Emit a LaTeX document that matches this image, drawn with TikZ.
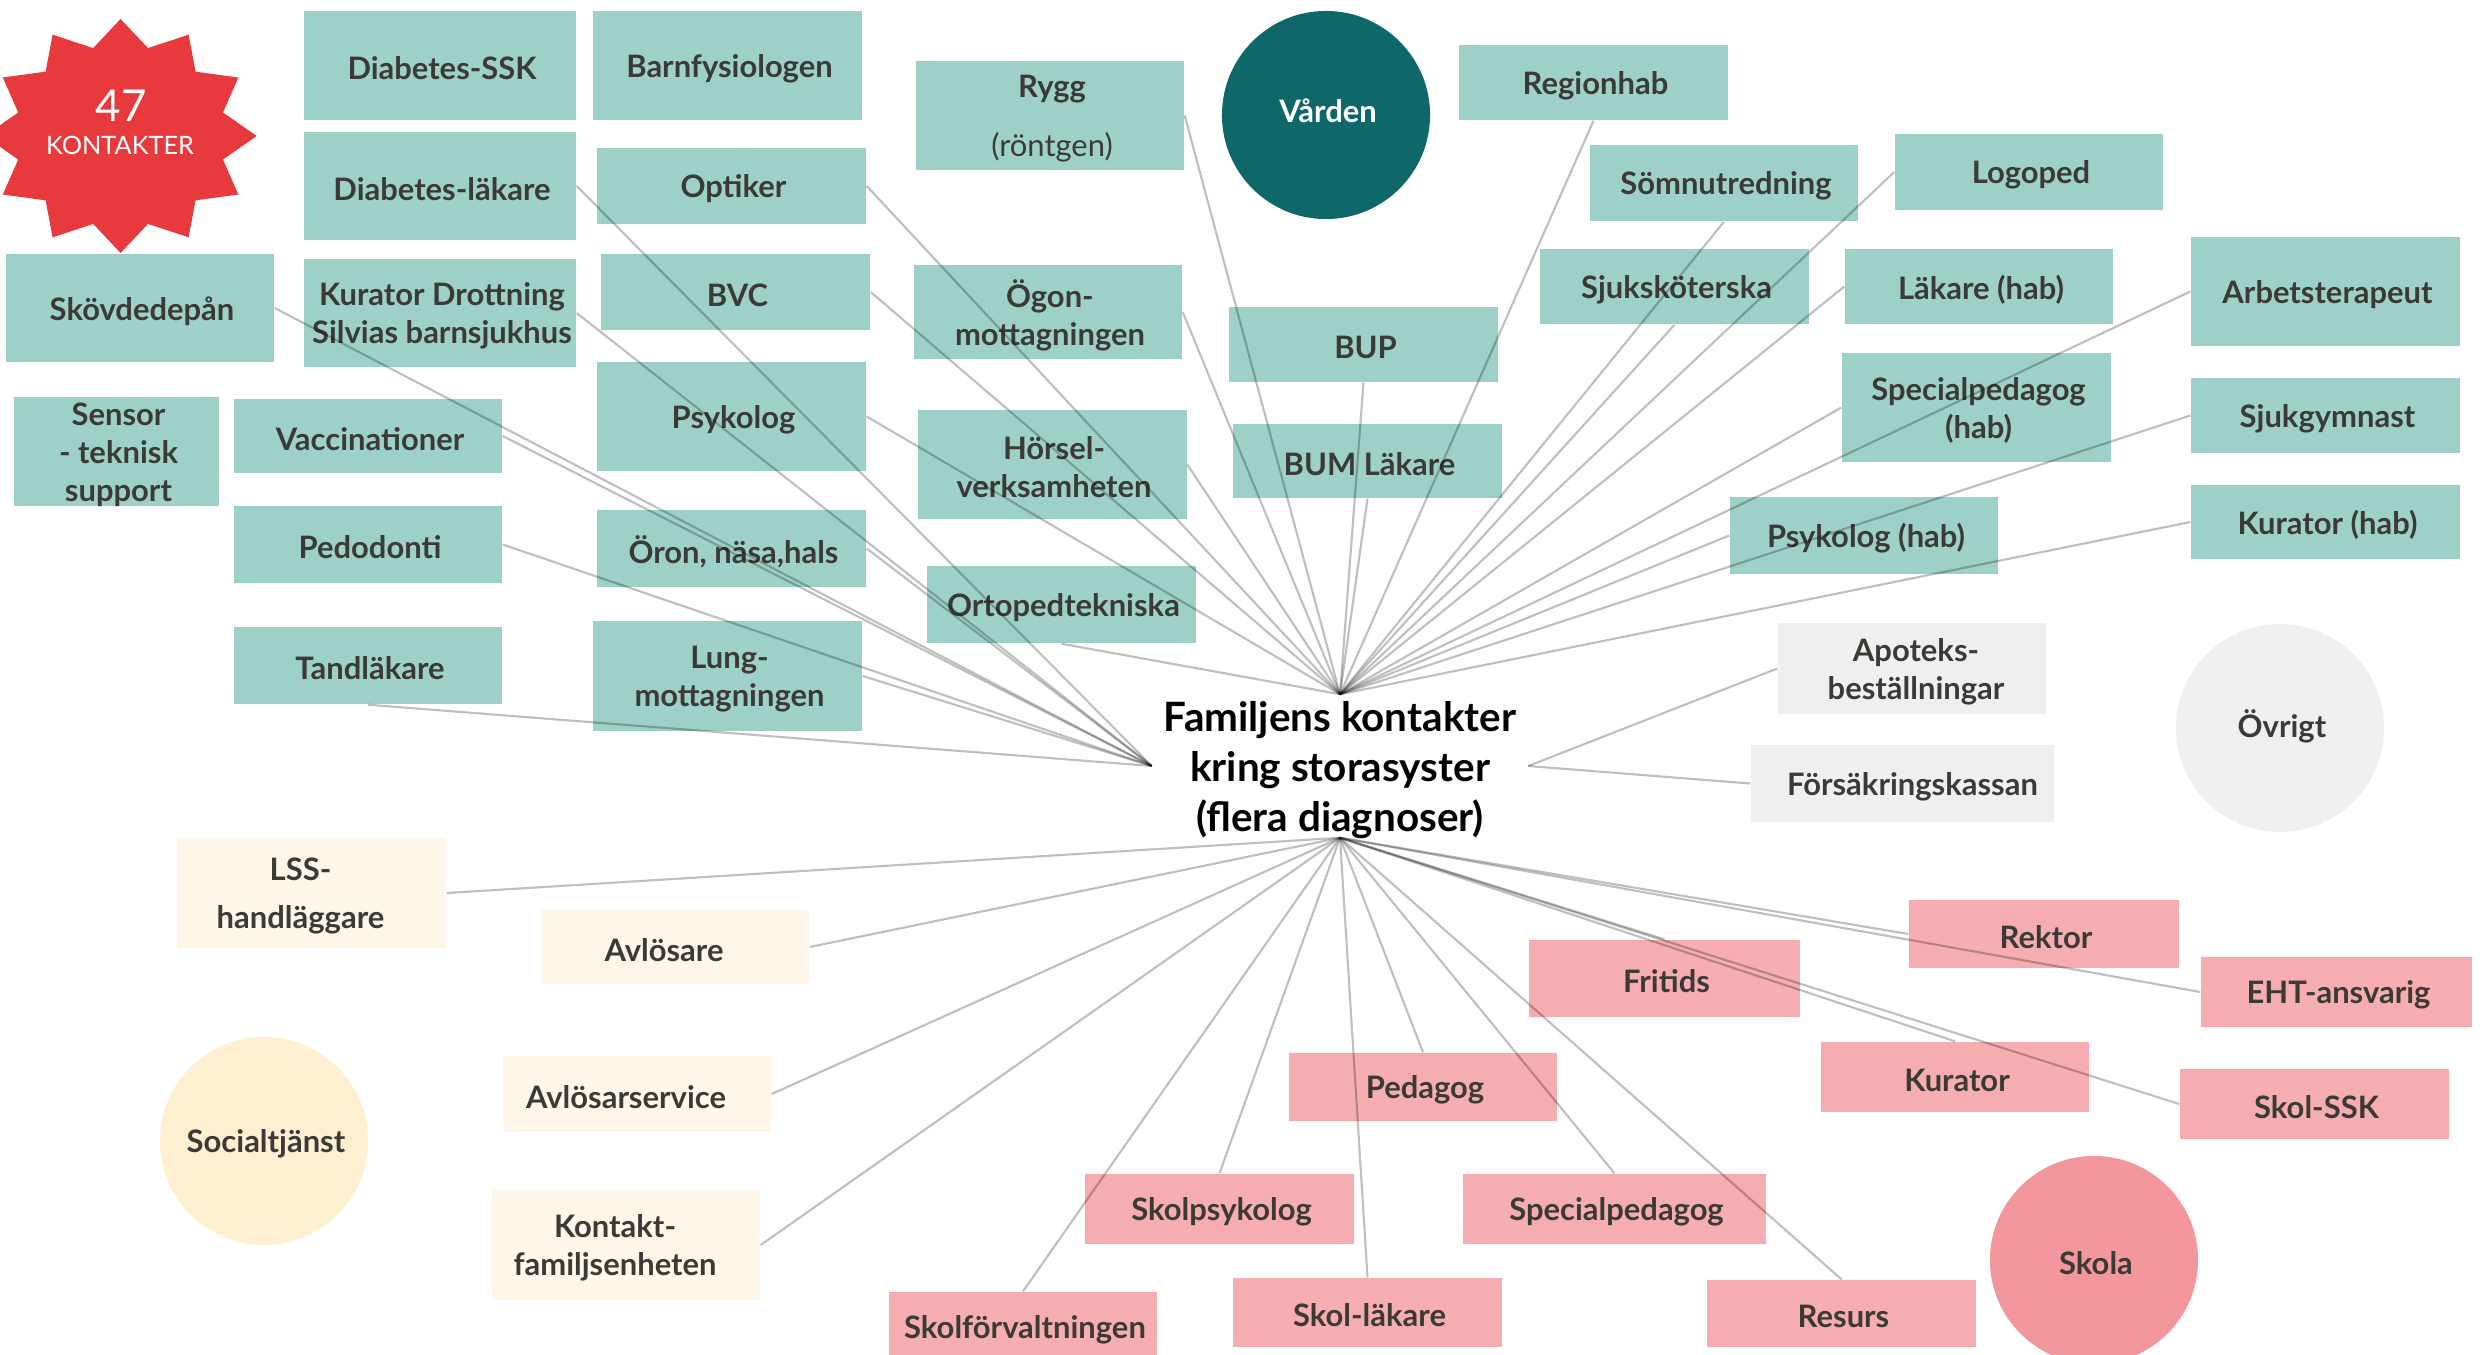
\documentclass[tikz,border=0pt]{standalone}
\usepackage{fontspec}
\setmainfont{Lato}
\definecolor{tealc}{HTML}{9DD1C7}
\definecolor{pinkc}{HTML}{F5ADB1}
\definecolor{creamc}{HTML}{FFF6EA}
\definecolor{greyc}{HTML}{EFEFEF}
\definecolor{vardc}{HTML}{0E6769}
\definecolor{socc}{HTML}{FEEFD1}
\definecolor{skolac}{HTML}{F4979C}
\definecolor{starc}{HTML}{E8393D}
\definecolor{txtc}{HTML}{3C3A37}
\newcommand\bxfont{\fontsize{8.8}{10.8}\selectfont\bfseries}
\newcommand\cfont{\fontsize{11.5}{14.2}\selectfont\bfseries}
% #1 = text x offset, #2 name, #3 style, #4 cx, #5 cy, #6 w, #7 h, #8 text
\newcommand\bx[8][2]{%
  \node[#3, minimum width=#6*0.01cm, minimum height=#7*0.01cm] (#2) at (#4,#5) {};
  \node[btext] (#2t) at (#4+#1,#5+3) {#8};}
\begin{document}
\begin{tikzpicture}[x=0.01cm,y=-0.01cm,
  box/.style={rectangle, inner sep=0pt, draw=none},
  btext/.style={inner sep=0pt, align=center, text=txtc, font=\bxfont},
  tbox/.style={box, fill=tealc},
  pbox/.style={box, fill=pinkc},
  cbox/.style={box, fill=creamc},
  gbox/.style={box, fill=greyc},
  circ/.style={circle, minimum size=2.08cm, inner sep=0pt, align=center, text=txtc, font=\bxfont},
  conn/.style={draw=black, draw opacity=0.25, line width=0.6pt}]
\useasboundingbox (0,0) rectangle (2484,1354);
\fill[white] (0,0) rectangle (2484,1354);
\clip (0,0) rectangle (2484,1354);
% star
\fill[starc] plot[samples at={0,15,...,345}] ({120.6+(121+15*cos(12*\x))*cos(\x)}, {136+(104+13*cos(12*\x))*sin(\x)}) -- cycle;
\node[text=white, font=\fontsize{12.5}{14}\selectfont] (n47) at (121,106) {47};
\node[text=white, font=\fontsize{7.2}{8.5}\selectfont] (nkont) at (120,145) {KONTAKTER};
% circles
\node[circ, fill=vardc, text=white] (varden) at (1326,115) {};
\node[btext, text=white] (vardent) at (1328,111) {Vården};
\node[circ, fill=socc] (soc) at (264,1141) {};
\node[btext] (soct) at (266,1144) {Socialtjänst};
\node[circ, fill=skolac] (skola) at (2094,1260) {};
\node[btext] (skolat) at (2096,1263) {Skola};
\node[circ, fill=greyc] (ovr) at (2280,728) {};
\node[btext] (ovrt) at (2282,726) {Övrigt};
% teal
\bx{dssk}{tbox}{440}{65.5}{272}{109}{Diabetes-SSK}
\bx{barn}{tbox}{727.5}{65.5}{269}{109}{Barnfysiologen}
\bx{dlak}{tbox}{440}{186}{272}{108}{Diabetes-läkare}
\bx{opt}{tbox}{731.5}{186}{269}{76}{Optiker}
\bx{skov}{tbox}{140}{308}{268}{108}{Skövdedepån}
\bx{kur}{tbox}{440}{313}{272}{108}{Kurator Drottning\\Silvias barnsjukhus}
\bx{bvc}{tbox}{735.5}{292}{269}{76}{BVC}
\bx{sens}{tbox}{116.5}{451.5}{205}{109}{Sensor\\- teknisk\\support}
\bx{vacc}{tbox}{368}{436}{268}{74}{Vaccinationer}
\bx{psyk}{tbox}{731.5}{416.5}{269}{109}{Psykolog}
\bx{pedo}{tbox}{368}{544.5}{268}{77}{Pedodonti}
\bx{oron}{tbox}{731.5}{548.5}{269}{77}{Öron, näsa,hals}
\bx{tand}{tbox}{368}{665.5}{268}{77}{Tandläkare}
\bx{lung}{tbox}{727.5}{676}{269}{110}{Lung-\\mottagningen}
\bx{rygg}{tbox}{1050}{115.5}{268}{109}{Rygg\\[6pt]{\mdseries(röntgen)}}
\bx{ogon}{tbox}{1048}{312}{268}{94}{Ögon-\\mottagningen}
\bx{hors}{tbox}{1052}{464.5}{269}{109}{Hörsel-\\verksamheten}
\bx{orto}{tbox}{1061.5}{604.5}{269}{77}{Ortopedtekniska}
\bx{bup}{tbox}{1363.5}{344.5}{269}{75}{BUP}
\bx{bum}{tbox}{1367.5}{461}{269}{74}{BUM Läkare}
\bx{regh}{tbox}{1593.5}{82.5}{269}{75}{Regionhab}
\bx{somn}{tbox}{1724}{183}{268}{76}{Sömnutredning}
\bx{logo}{tbox}{2029}{172}{268}{76}{Logoped}
\bx{sjuk}{tbox}{1674.5}{286.5}{269}{75}{Sjuksköterska}
\bx{lhab}{tbox}{1979}{286.5}{268}{75}{Läkare (hab)}
\bx{arb}{tbox}{2325.5}{291.5}{269}{109}{Arbetsterapeut}
\bx{sphab}{tbox}{1976.5}{407.5}{269}{109}{Specialpedagog\\(hab)}
\bx{gym}{tbox}{2325.5}{415.5}{269}{75}{Sjukgymnast}
\bx{pshab}{tbox}{1864}{535.5}{268}{77}{Psykolog (hab)}
\bx{kuhab}{tbox}{2325.5}{522}{269}{74}{Kurator (hab)}
% grey
\bx[4]{apo}{gbox}{1912}{668.5}{268}{91}{Apoteks-\\beställningar}
\bx[10]{fk}{gbox}{1902.5}{783.5}{303}{77}{Försäkringskassan}
% cream
\bx[-11]{lss}{cbox}{311.5}{893}{269}{110}{LSS-\\[3pt]handläggare}
\bx[-11]{avl}{cbox}{675}{947}{268}{74}{Avlösare}
\bx[-11]{avls}{cbox}{637}{1094}{268}{76}{Avlösarservice}
\bx[-11]{kont}{cbox}{626}{1245}{268}{110}{Kontakt-\\familjsenheten}
% pink
\bx{rekt}{pbox}{2044}{934}{270}{68}{Rektor}
\bx{frit}{pbox}{1664.5}{978.5}{271}{77}{Fritids}
\bx{eht}{pbox}{2336.5}{992}{271}{70}{EHT-ansvarig}
\bx{peda}{pbox}{1423}{1087}{268}{68}{Pedagog}
\bx{kura}{pbox}{1955}{1077}{268}{70}{Kurator}
\bx{sssk}{pbox}{2314.5}{1104}{269}{70}{Skol-SSK}
\bx{spsy}{pbox}{1219.5}{1209}{269}{70}{Skolpsykolog}
\bx{sped}{pbox}{1614.5}{1209}{303}{70}{Specialpedagog}
\bx{sfor}{pbox}{1023}{1327}{268}{70}{Skolförvaltningen}
\bx{slak}{pbox}{1367.5}{1312.5}{269}{69}{Skol-läkare}
\bx{resu}{pbox}{1841.5}{1313.5}{269}{67}{Resurs}
% centre
\node[inner sep=0pt, minimum width=3.75cm, minimum height=1.42cm] (c) at (1340,766) {};
\node[font=\cfont, align=center, text=black, inner sep=0pt] (ct) at (1340,770) {Familjens kontakter\\kring storasyster\\(flera diagnoser)};
% connectors
\foreach \n/\a in {opt/east,bvc/east,psyk/east,rygg/east,ogon/east,hors/east,orto/south,bup/south,bum/south,regh/south,somn/south,sjuk/south,logo/west,lhab/west,sphab/west,arb/west,gym/west,pshab/west,kuhab/west}
  \draw[conn] (c.north) -- (\n.\a);
\foreach \n/\a in {dlak/east,kur/east,skov/east,vacc/east,oron/east,pedo/east,tand/south,lung/east}
  \draw[conn] (c.west) -- (\n.\a);
\foreach \n/\a in {apo/west,fk/west}
  \draw[conn] (c.east) -- (\n.\a);
\foreach \n/\a in {lss/east,avl/east,avls/east,kont/east,sfor/north,spsy/north,slak/north,peda/north,sped/north,resu/north,frit/north,kura/north,rekt/west,eht/west,sssk/west}
  \draw[conn] (c.south) -- (\n.\a);
\end{tikzpicture}
\end{document}
